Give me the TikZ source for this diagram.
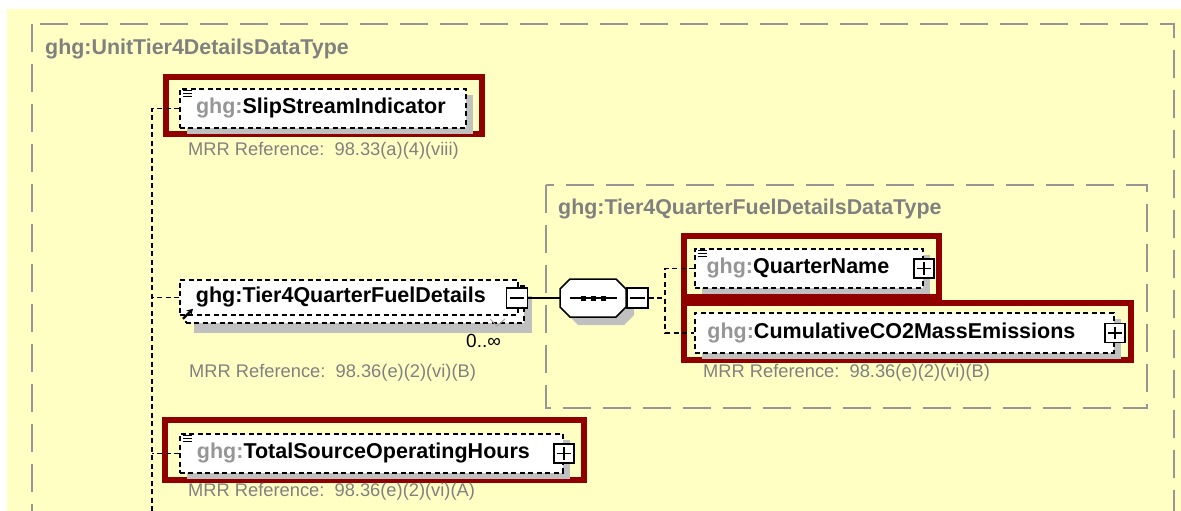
\documentclass[tikz,border=0pt]{standalone}
\usepackage{fontspec}
\setmainfont{Liberation Sans}
\usetikzlibrary{shadows,arrows.meta}
\definecolor{bgyellow}{RGB}{255,255,196}
\definecolor{hlred}{RGB}{145,0,0}
\definecolor{framegray}{RGB}{150,150,150}
\definecolor{txtgray}{RGB}{128,128,128}
\definecolor{pfxgray}{RGB}{150,150,150}
\definecolor{shadowgray}{RGB}{192,192,192}
\begin{document}
\begin{tikzpicture}[x=1pt,y=-1pt,
  typebox/.style={draw=framegray, line width=2pt, dash pattern=on 28pt off 12pt},
  typetitle/.style={anchor=mid west, inner sep=0pt, text=txtgray, font=\fontsize{21.4}{24}\selectfont\bfseries},
  elembox/.style={draw=black, line width=1.8pt, dash pattern=on 5pt off 3.5pt, fill=white, inner sep=0pt, anchor=north west, font=\fontsize{21.5}{24}\selectfont\bfseries},
  shad/.style={drop shadow={shadow xshift=7pt, shadow yshift=-6pt, fill=shadowgray, opacity=1}},
  pmbox/.style={draw=black, solid, line width=1.5pt, fill=white, minimum width=20pt, minimum height=19pt, inner sep=0pt},
  pmline/.style={draw=black, solid, line width=1.5pt},
  hlframe/.style={draw=hlred, line width=6pt},
  conn/.style={draw=black, line width=1.8pt, dash pattern=on 5pt off 3.5pt},
  mrr/.style={anchor=mid west, inner sep=0pt, text=txtgray, font=\fontsize{18.3}{20}\selectfont},
  docicon/.style={draw=black, line width=1.2pt, solid},
]
\useasboundingbox (0,0) rectangle (1181,511);
\clip (0,0) rectangle (1181,511);
\fill[white] (0,0) rectangle (1181,511);
\fill[bgyellow] (7,9) rectangle (1185,515);

% type boxes
\draw[typebox] (32,24) rectangle (1174,540);
\node[typetitle] (outertitle) at (45,52) {ghg:UnitTier4DetailsDataType};
\draw[typebox] (546,185) rectangle (1147,408);
\node[typetitle] (innertitle) at (558,212) {ghg:Tier4QuarterFuelDetailsDataType};

% highlight frames
\draw[hlframe] (166,77) rectangle (482,134);
\draw[hlframe] (684,236) rectangle (939,297);
\draw[hlframe] (684,303) rectangle (1131,360);
\draw[hlframe] (165,420) rectangle (584,480);

% SlipStreamIndicator
\node[elembox, shad, minimum width=286pt, minimum height=39pt] (slip) at (179,88) {\textcolor{pfxgray}{ghg:}SlipStreamIndicator\rule{4pt}{0pt}};
\draw[docicon] ([shift={(4,2.5)}]slip.north west) -- ++(9,0);
\draw[docicon] ([shift={(4,5.5)}]slip.north west) -- ++(9,0);
\draw[docicon] ([shift={(4,8.5)}]slip.north west) -- ++(9,0);
\node[mrr] (mrrslip) at (188,153) {MRR Reference:\ \ 98.33(a)(4)(viii)};

% Tier4QuarterFuelDetails
\node[elembox, minimum width=338pt, minimum height=37pt, drop shadow={shadow xshift=8pt, shadow yshift=-10pt, fill=shadowgray, opacity=1}] (t4back) at (185,285) {};
\node[elembox, minimum width=338pt, minimum height=35pt] (tier4) at (179,279) {ghg:Tier4QuarterFuelDetails\rule{16pt}{0pt}};
\draw[-{Stealth[length=6pt,width=7pt]}, line width=2.2pt, solid] ([shift={(4,3)}]tier4.south west) -- ++(10,-10);
\draw[gray!70, line width=1pt] (490,319) -- (497,326) -- (505,319);
\node[pmbox, minimum width=21pt, minimum height=20pt] (t4m) at (517,298) {};
\draw[pmline] ([xshift=4pt]t4m.west) -- ([xshift=-4pt]t4m.east);
\node[anchor=mid west, inner sep=0pt, font=\fontsize{19}{21}\selectfont] (occ) at (466,345) {0..∞};
\node[mrr] (mrrt4) at (189,375) {MRR Reference:\ \ 98.36(e)(2)(vi)(B)};

% sequence compositor
\node[minimum width=66pt, minimum height=38pt, inner sep=0pt] (seq) at (593,298) {};
\fill[shadowgray] (578,287) -- (624,287) -- (634,297) -- (634,315) -- (624,325) -- (578,325) -- (568,315) -- (568,297) -- cycle;
\filldraw[draw=black, fill=white, line width=1.5pt] (570,279) -- (616,279) -- (626,289) -- (626,307) -- (616,317) -- (570,317) -- (560,307) -- (560,289) -- cycle;
\draw[line width=1.5pt] (570,298) -- (617,298);
\fill (581,295.5) rectangle (586,300.5);
\fill (591,295.5) rectangle (596,300.5);
\fill (601,295.5) rectangle (606,300.5);
\node[pmbox, minimum width=21pt, minimum height=20pt, anchor=west] (seqm) at (seq.east) {};
\draw[pmline] ([xshift=4pt]seqm.west) -- ([xshift=-4pt]seqm.east);
\draw[line width=1.5pt] (t4m.east) -- (seq.west);

% QuarterName
\node[elembox, shad, minimum width=228pt, minimum height=39pt] (qn) at (694,248) {\textcolor{pfxgray}{ghg:}QuarterName\rule{22pt}{0pt}};
\draw[docicon] ([shift={(4,2.5)}]qn.north west) -- ++(9,0);
\draw[docicon] ([shift={(4,5.5)}]qn.north west) -- ++(9,0);
\draw[docicon] ([shift={(4,8.5)}]qn.north west) -- ++(9,0);
\node[pmbox] (qnp) at (qn.east) {};
\draw[pmline] ([xshift=4pt]qnp.west) -- ([xshift=-4pt]qnp.east) ([yshift=4pt]qnp.south) -- ([yshift=-4pt]qnp.north);

% CumulativeCO2MassEmissions
\node[elembox, shad, minimum width=419pt, minimum height=40pt] (cum) at (694,312) {\textcolor{pfxgray}{ghg:}CumulativeCO2MassEmissions\rule{26pt}{0pt}};
\node[pmbox] (cump) at (cum.east) {};
\draw[pmline] ([xshift=4pt]cump.west) -- ([xshift=-4pt]cump.east) ([yshift=4pt]cump.south) -- ([yshift=-4pt]cump.north);
\node[mrr] (mrrcum) at (703,375) {MRR Reference:\ \ 98.36(e)(2)(vi)(B)};

% TotalSourceOperatingHours
\node[elembox, shad, minimum width=383pt, minimum height=39pt] (total) at (179,433) {\textcolor{pfxgray}{ghg:}TotalSourceOperatingHours\rule{16pt}{0pt}};
\draw[docicon] ([shift={(4,2.5)}]total.north west) -- ++(9,0);
\draw[docicon] ([shift={(4,5.5)}]total.north west) -- ++(9,0);
\draw[docicon] ([shift={(4,8.5)}]total.north west) -- ++(9,0);
\node[pmbox] (totp) at (total.east) {};
\draw[pmline] ([xshift=4pt]totp.west) -- ([xshift=-4pt]totp.east) ([yshift=4pt]totp.south) -- ([yshift=-4pt]totp.north);
\node[mrr] (mrrtot) at (188,494) {MRR Reference:\ \ 98.36(e)(2)(vi)(A)};

% connectors
\coordinate (vbot) at (152,520);
\coordinate (br) at (665,298);
\draw[conn] (slip.west) -| (vbot);
\draw[conn] (tier4.west) -- (tier4.west -| vbot);
\draw[conn] (total.west) -- (total.west -| vbot);
\draw[conn] (seqm.east) -- (br);
\draw[conn] (qn.west) -| (br |- cum.west) -- (cum.west);
\end{tikzpicture}
\end{document}
